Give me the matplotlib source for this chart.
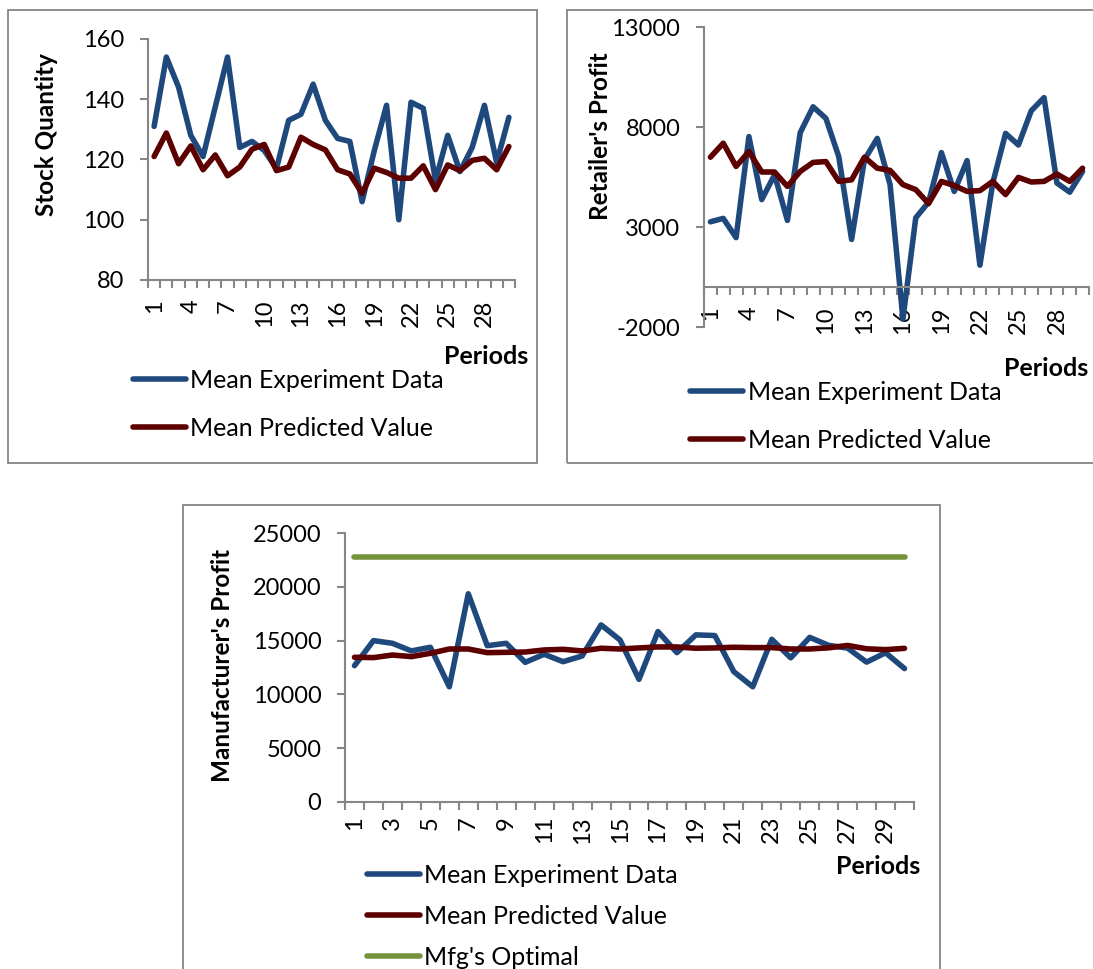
import numpy as np
import matplotlib

matplotlib.use("Agg")
import matplotlib.pyplot as plt
from matplotlib.patches import Rectangle
from matplotlib.ticker import FixedLocator, FixedFormatter, NullFormatter

# data
periods = np.arange(1, 31)

stock_exp = [131, 154, 144, 128, 121, 137.5, 154, 124, 126, 123, 117, 133, 135, 145, 133,
             127, 126, 106, 123, 138, 100, 139, 137, 113, 128, 116, 124, 138, 119, 134]
stock_pred = [121, 128.8, 118.6, 124.5, 116.6, 121.5, 114.6, 117.5, 123.4, 125, 116.3, 117.5,
              127.4, 125, 123.2, 116.6, 115.2, 108.8, 117.1, 115.7, 113.8, 113.8, 117.9, 110,
              118.2, 116.3, 119.7, 120.4, 116.6, 124.3]

retailer_exp = [3260, 3430, 2470, 7520, 4370, 5610, 3330, 7720, 9010, 8430, 6520, 2380, 6360,
                7430, 5120, -1600, 3460, 4240, 6720, 4780, 6320, 1090, 5200, 7680, 7100, 8810,
                9470, 5200, 4740, 5780]
retailer_pred = [6490, 7190, 6030, 6770, 5750, 5750, 5030, 5780, 6230, 6270, 5280, 5360, 6490,
                 5940, 5830, 5120, 4870, 4170, 5280, 5070, 4780, 4820, 5280, 4620, 5480, 5250,
                 5280, 5650, 5280, 5940]

mfg_exp = [12670, 15000, 14750, 14040, 14380, 10710, 19350, 14530, 14750, 12980, 13730, 13040,
           13570, 16460, 15060, 11400, 15840, 13880, 15530, 15470, 12110, 10710, 15120, 13400,
           15300, 14560, 14300, 13000, 13870, 12400]
mfg_pred = [13450, 13420, 13660, 13510, 13820, 14220, 14220, 13880, 13910, 13940, 14130, 14190,
            14040, 14290, 14220, 14320, 14410, 14410, 14290, 14320, 14380, 14350, 14350, 14220,
            14220, 14330, 14550, 14240, 14160, 14280]
mfg_optimal = 22800

series_labels = ["Mean Experiment Data", "Mean Predicted Value", "Mfg's Optimal"]

W, H = 1093, 969
BLUE = "#1f497d"
RED = "#5c0000"
GREEN = "#77933c"
GRAY = "#868686"
TICK_FS = 17
TEXT_FS = 18

plt.rcParams["font.family"] = ["Lato", "DejaVu Sans"]
plt.rcParams["axes.unicode_minus"] = False

fig = plt.figure(figsize=(W / 100, H / 100), dpi=100)


def px_axes(left, top, right, bottom):
    """Axes placed by pixel edges (origin top-left)."""
    return fig.add_axes([left / W, 1 - bottom / H, (right - left) / W, (bottom - top) / H])


def frame(left, top, right, bottom):
    fig.add_artist(Rectangle((left / W, 1 - bottom / H), (right - left) / W, (bottom - top) / H,
                             transform=fig.transFigure, fill=False, edgecolor=GRAY, linewidth=1.3))


def style_axis(ax, yticks, label_step, label_pad):
    ax.set_xlim(0.5, 30.5)
    ax.set_ylim(yticks[0], yticks[-1])
    ax.spines[["top", "right"]].set_visible(False)
    for side in ["left", "bottom"]:
        ax.spines[side].set_color(GRAY)
        ax.spines[side].set_linewidth(1.5)
    ax.set_yticks(yticks)
    # tick marks between categories, labels on the categories
    ax.xaxis.set_major_locator(FixedLocator(np.arange(0.5, 31, 1)))
    ax.xaxis.set_major_formatter(NullFormatter())
    shown = periods[::label_step]
    ax.xaxis.set_minor_locator(FixedLocator(shown))
    ax.xaxis.set_minor_formatter(FixedFormatter([str(p) for p in shown]))
    ax.tick_params(axis="x", which="major", length=6, width=1.5, color=GRAY)
    ax.tick_params(axis="x", which="minor", length=0, pad=label_pad, labelsize=TICK_FS,
                   labelrotation=90)
    ax.tick_params(axis="y", length=6, width=1.5, color=GRAY, labelsize=TICK_FS, pad=11)


def draw(ax, series):
    lines = []
    for values, color in series:
        (ln,) = ax.plot(periods, values, color=color, linewidth=4.0,
                        solid_joinstyle="round", solid_capstyle="round")
        lines.append(ln)
    return lines


def add_legend(lines, x, y, spacing):
    fig.legend(lines, series_labels[:len(lines)], loc="upper left",
               bbox_to_anchor=(x / W, 1 - y / H), frameon=False, fontsize=TEXT_FS,
               handlelength=2.1, handletextpad=0.2, labelspacing=spacing,
               borderpad=0, borderaxespad=0)


def labels(ax, ylabel, ylab_xy, periods_xy, box):
    left, top, right, bottom = box
    ax.set_ylabel(ylabel, fontsize=17.5, fontweight="bold", va="center")
    lx, ly = ylab_xy
    ax.yaxis.set_label_coords((lx - left) / (right - left), (bottom - ly) / (bottom - top))
    ax.set_xlabel("Periods", fontsize=TEXT_FS, fontweight="bold", ha="right", va="center")
    px, py = periods_xy
    ax.xaxis.set_label_coords((px - left) / (right - left), (bottom - py) / (bottom - top))


# Stock quantity
frame(8, 10, 537, 463)
box1 = (148, 39, 515, 280)
ax1 = px_axes(*box1)
l1 = draw(ax1, [(stock_exp, BLUE), (stock_pred, RED)])
style_axis(ax1, [80, 100, 120, 140, 160], 3, 14)
labels(ax1, "Stock Quantity", (47, 135), (528, 357), box1)
add_legend(l1, 133, 369, 1.0)

# Retailer's profit
frame(567, 10, 1110, 463)
box2 = (704, 27, 1089, 327)
ax2 = px_axes(*box2)
l2 = draw(ax2, [(retailer_exp, BLUE), (retailer_pred, RED)])
style_axis(ax2, [-2000, 3000, 8000, 13000], 3, 14)
ax2.spines["bottom"].set_position(("data", 0))
labels(ax2, "Retailer's Profit", (600, 136), (1088, 368), box2)
add_legend(l2, 690, 381, 1.0)

# Manufacturer's profit
frame(183, 505, 940, 990)
box3 = (345, 533, 914, 802)
ax3 = px_axes(*box3)
l3 = draw(ax3, [(mfg_exp, BLUE), (mfg_pred, RED), ([mfg_optimal] * len(periods), GREEN)])
style_axis(ax3, [0, 5000, 10000, 15000, 20000, 25000], 2, 10)
labels(ax3, "Manufacturer's Profit", (222, 665), (920, 866), box3)
add_legend(l3, 367, 864, 0.72)

fig.savefig("out.png", dpi=100)
